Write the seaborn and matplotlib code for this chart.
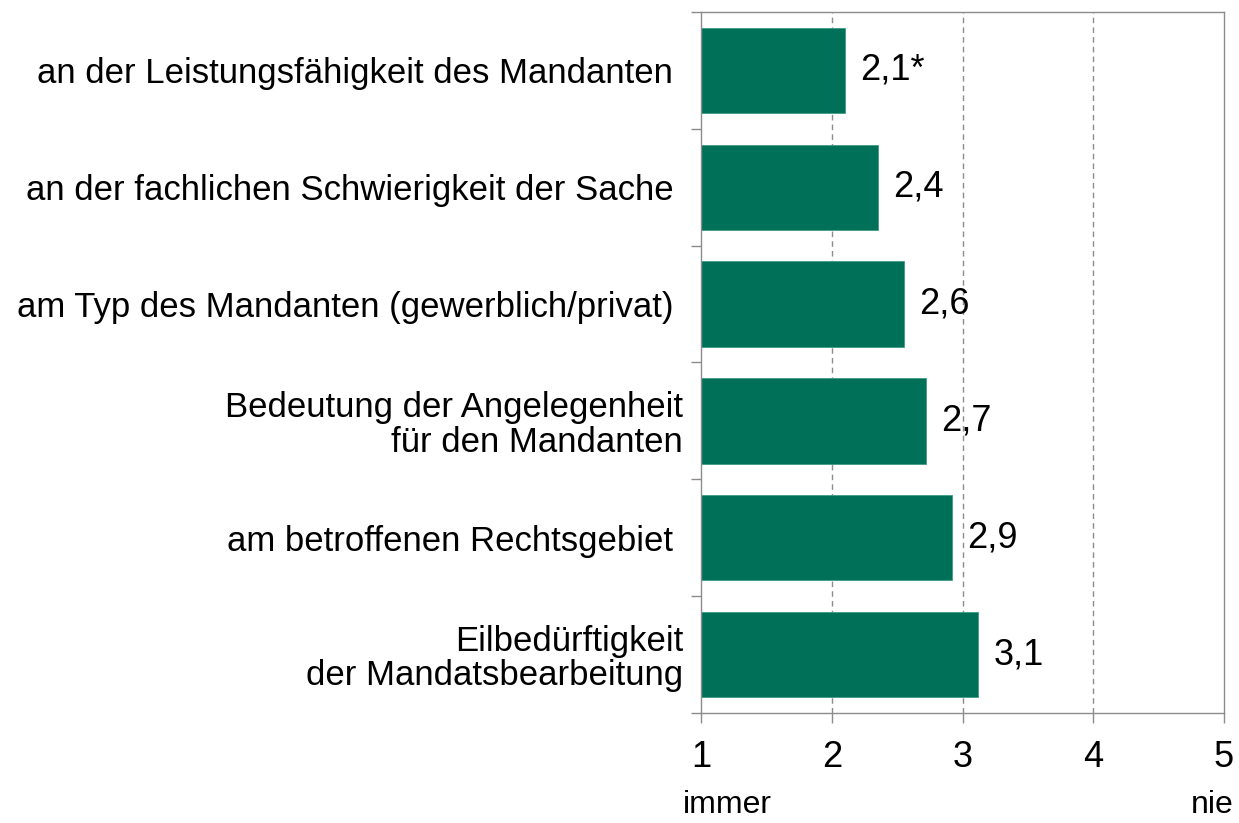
#! /usr/bin/env python3

import pandas as pd
import matplotlib.pyplot as plt
import seaborn as sns

sns.set_theme(style='white')
plt.rcParams['font.family'] = ['Liberation Sans', 'DejaVu Sans']
plt.rcParams['text.color'] = 'black'
plt.rcParams['xtick.labelcolor'] = 'black'
plt.rcParams['ytick.labelcolor'] = 'black'

# --- data
kategorien = ['an der Leistungsfähigkeit des Mandanten ',
              'an der fachlichen Schwierigkeit der Sache ',
              'am Typ des Mandanten (gewerblich/privat) ',
              'Bedeutung der Angelegenheit\nfür den Mandanten',
              'am betroffenen Rechtsgebiet ',
              'Eilbedürftigkeit\nder Mandatsbearbeitung']
mittelwerte = [2.10, 2.35, 2.55, 2.72, 2.92, 3.12]
wert_labels = ['2,1*', '2,4', '2,6', '2,7', '2,9', '3,1']
x_ticks = [1, 2, 3, 4, 5]


def main():
    df = pd.DataFrame({'kategorie': kategorien, 'wert': mittelwerte})

    fig = plt.figure(figsize=(12.39, 8.23), dpi=100)
    ax = fig.add_axes([0.5658, 0.1337, 0.4221, 0.8517])

    grau = '#8c8c8c'

    # --- dashed grid behind the bars
    for xv in x_ticks[1:-1]:
        ax.axvline(xv, color=grau, linestyle=(0, (4, 3)), linewidth=1, zorder=0)

    sns.barplot(data=df, x='wert', y='kategorie', orient='h',
                color='#007058', saturation=1, width=0.73,
                edgecolor='#3f9a86', linewidth=0.6, ax=ax, zorder=2)

    # --- value labels right of the bars
    for i, (v, lab) in enumerate(zip(mittelwerte, wert_labels)):
        ax.annotate(lab, xy=(v, i), xytext=(11, 0), textcoords='offset points',
                    ha='left', va='center', fontsize=26, color='black')

    ax.set_xlim(1, 5)
    ax.set_ylim(len(kategorien) - 0.5, -0.5)
    ax.set_xticks(x_ticks)
    ax.set_xticklabels([str(t) for t in x_ticks])
    ax.set_xlabel('')
    ax.set_ylabel('')

    # --- category labels at centers, tick marks at the boundaries
    ax.set_yticks(range(len(kategorien)))
    ax.set_yticklabels(kategorien, fontsize=25, linespacing=1.05)
    ax.set_yticks([i - 0.5 for i in range(len(kategorien) + 1)], minor=True)
    ax.tick_params(axis='y', which='major', length=0, pad=13)
    ax.tick_params(axis='y', which='minor', length=7.5, width=1, color=grau,
                   direction='out', left=True)
    ax.tick_params(axis='x', which='major', length=7.5, width=1, color=grau,
                   direction='out', bottom=True, labelsize=26, pad=12)

    for s in ax.spines.values():
        s.set_color(grau)
        s.set_linewidth(1)
        s.set_visible(True)

    fig.text(683 / 1239, 0.022, 'immer', ha='left', va='center', fontsize=23)
    fig.text(1234 / 1239, 0.022, 'nie', ha='right', va='center', fontsize=23)

    plt.savefig('out.png', dpi=100)
    plt.close(fig)


if __name__ == "__main__":
    main()
